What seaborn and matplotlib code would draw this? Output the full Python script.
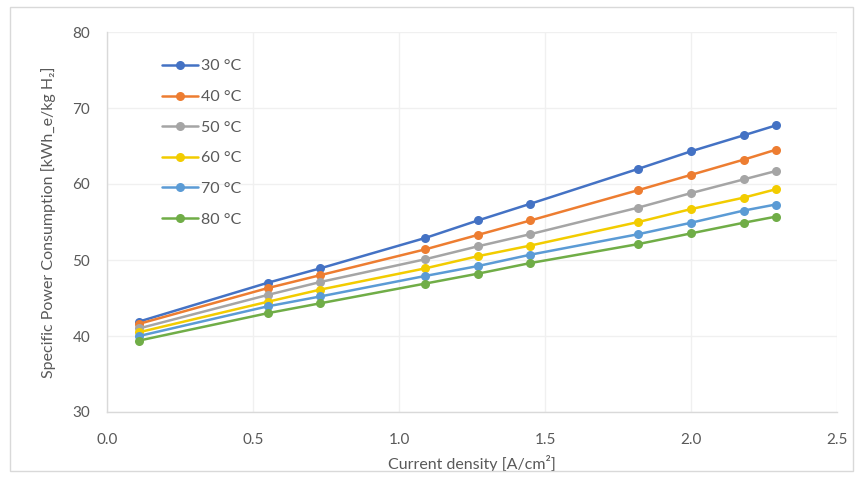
import matplotlib
matplotlib.use("Agg")
import matplotlib.pyplot as plt
import seaborn as sns
import pandas as pd
from matplotlib.patches import Rectangle

current_density = [0.11, 0.55, 0.73, 1.09, 1.27, 1.45, 1.82, 2.00, 2.18, 2.29]
series_labels = ["30 °C", "40 °C", "50 °C", "60 °C", "70 °C", "80 °C"]
spc_30 = [41.9, 47.0, 48.9, 52.9, 55.2, 57.4, 62.0, 64.3, 66.4, 67.7]
spc_40 = [41.6, 46.3, 48.0, 51.4, 53.3, 55.2, 59.2, 61.2, 63.2, 64.5]
spc_50 = [41.0, 45.4, 47.1, 50.1, 51.8, 53.4, 56.9, 58.8, 60.6, 61.7]
spc_60 = [40.5, 44.5, 46.1, 48.9, 50.5, 51.9, 55.0, 56.7, 58.2, 59.3]
spc_70 = [40.0, 43.9, 45.2, 47.9, 49.2, 50.7, 53.4, 54.9, 56.5, 57.3]
spc_80 = [39.4, 43.0, 44.3, 46.9, 48.2, 49.6, 52.1, 53.5, 54.9, 55.7]
series_values = [spc_30, spc_40, spc_50, spc_60, spc_70, spc_80]
x_ticks = [0.0, 0.5, 1.0, 1.5, 2.0, 2.5]
y_ticks = [30, 40, 50, 60, 70, 80]

colors = ["#4472C4", "#ED7D31", "#A5A5A5", "#F2CC00", "#5B9BD5", "#70AD47"]

rows = []
for lab, vals in zip(series_labels, series_values):
    for xv, yv in zip(current_density, vals):
        rows.append({"Current density": xv, "SPC": yv, "T": lab})
df = pd.DataFrame(rows)

sns.set_style("white")
plt.rcParams["font.family"] = ["Lato", "DejaVu Sans"]

fig = plt.figure(figsize=(8.6, 4.8), dpi=100)
ax = fig.add_axes([107/860, 1-412/480, (837-107)/860, (412-32)/480])

sns.lineplot(data=df, x="Current density", y="SPC", hue="T",
             hue_order=series_labels, palette=colors, marker="o",
             markersize=6.5, markeredgewidth=0, linewidth=1.8, ax=ax)

ax.set_xlim(0, 2.5)
ax.set_ylim(30, 80)
ax.set_xticks(x_ticks)
ax.set_xticklabels([f"{t:.1f}" for t in x_ticks])
ax.set_yticks(y_ticks)
ax.grid(True, color="#F0F0F0", linewidth=1)
ax.set_axisbelow(True)
for s in ["top", "right"]:
    ax.spines[s].set_visible(False)
for s in ["left", "bottom"]:
    ax.spines[s].set_color("#D9D9D9")
    ax.spines[s].set_linewidth(1)
ax.tick_params(axis="both", length=0, labelsize=11, labelcolor="#595959")
ax.tick_params(axis="x", pad=15)
ax.tick_params(axis="y", pad=12)

ax.set_xlabel("Current density [A/cm²]", fontsize=11.5, color="#595959", labelpad=6)
ax.set_ylabel("Specific Power Consumption [kWh_e/kg H₂]", fontsize=11.5,
              color="#595959", labelpad=12)

leg = ax.legend(loc="upper left", bbox_to_anchor=(0.066, 0.945), frameon=False,
                fontsize=11.5, handlelength=2.3, labelspacing=1.03,
                handletextpad=0.15, borderaxespad=0)
for t in leg.get_texts():
    t.set_color("#595959")

fig.patches.append(Rectangle((10/860, 1-471/480), (853-10)/860, (471-7)/480,
                             transform=fig.transFigure, fill=False,
                             edgecolor="#D9D9D9", linewidth=1))

fig.savefig("out.png", dpi=100)
